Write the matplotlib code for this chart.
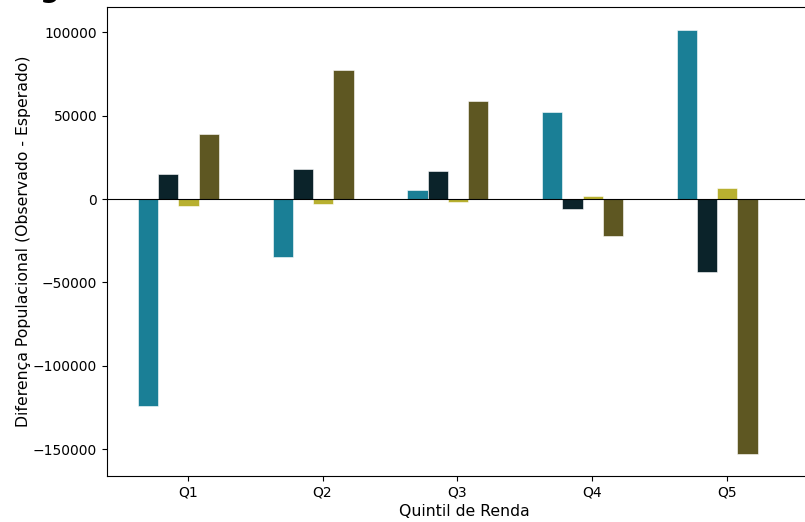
import matplotlib
matplotlib.use("Agg")
import matplotlib.pyplot as plt
import numpy as np

quintis = ["Q1", "Q2", "Q3", "Q4", "Q5"]
serie_a = [-124000, -35000, 5500, 52000, 101500]
serie_b = [15000, 18000, 17000, -6000, -43500]
serie_c = [-4000, -3000, -1500, 2000, 6500]
serie_d = [39000, 77000, 58500, -22000, -152500]
cores = ["#1a7f96", "#0b232a", "#b8b030", "#5e5722"]

fig = plt.figure(figsize=(8.05, 5.22), dpi=100)
ax = fig.add_axes([107/805, 1-476/522, 714/805, 469/522])

x = np.arange(len(quintis))
w = 0.15
for i, (vals, c) in enumerate(zip([serie_a, serie_b, serie_c, serie_d], cores)):
    ax.bar(x + (i - 2) * w + 0.005, vals, width=w, color=c, edgecolor="white", linewidth=0.4)

ax.axhline(0, color="black", linewidth=0.8)
ax.set_xticks(x)
ax.set_xticklabels(quintis)
ax.set_xlim(-0.6, 4.7)
ax.set_ylim(-165900, 115000)
ax.set_yticks([-150000, -100000, -50000, 0, 50000, 100000])
ax.set_xlabel("Quintil de Renda", fontsize=11.3, labelpad=3)
ax.set_ylabel("Diferença Populacional (Observado - Esperado)", fontsize=11.3, labelpad=1.8)

fig.text(50/805, 1 + 3/522, "g", fontsize=20, fontweight="bold", ha="center", va="baseline")

fig.savefig("out.png", dpi=100)
